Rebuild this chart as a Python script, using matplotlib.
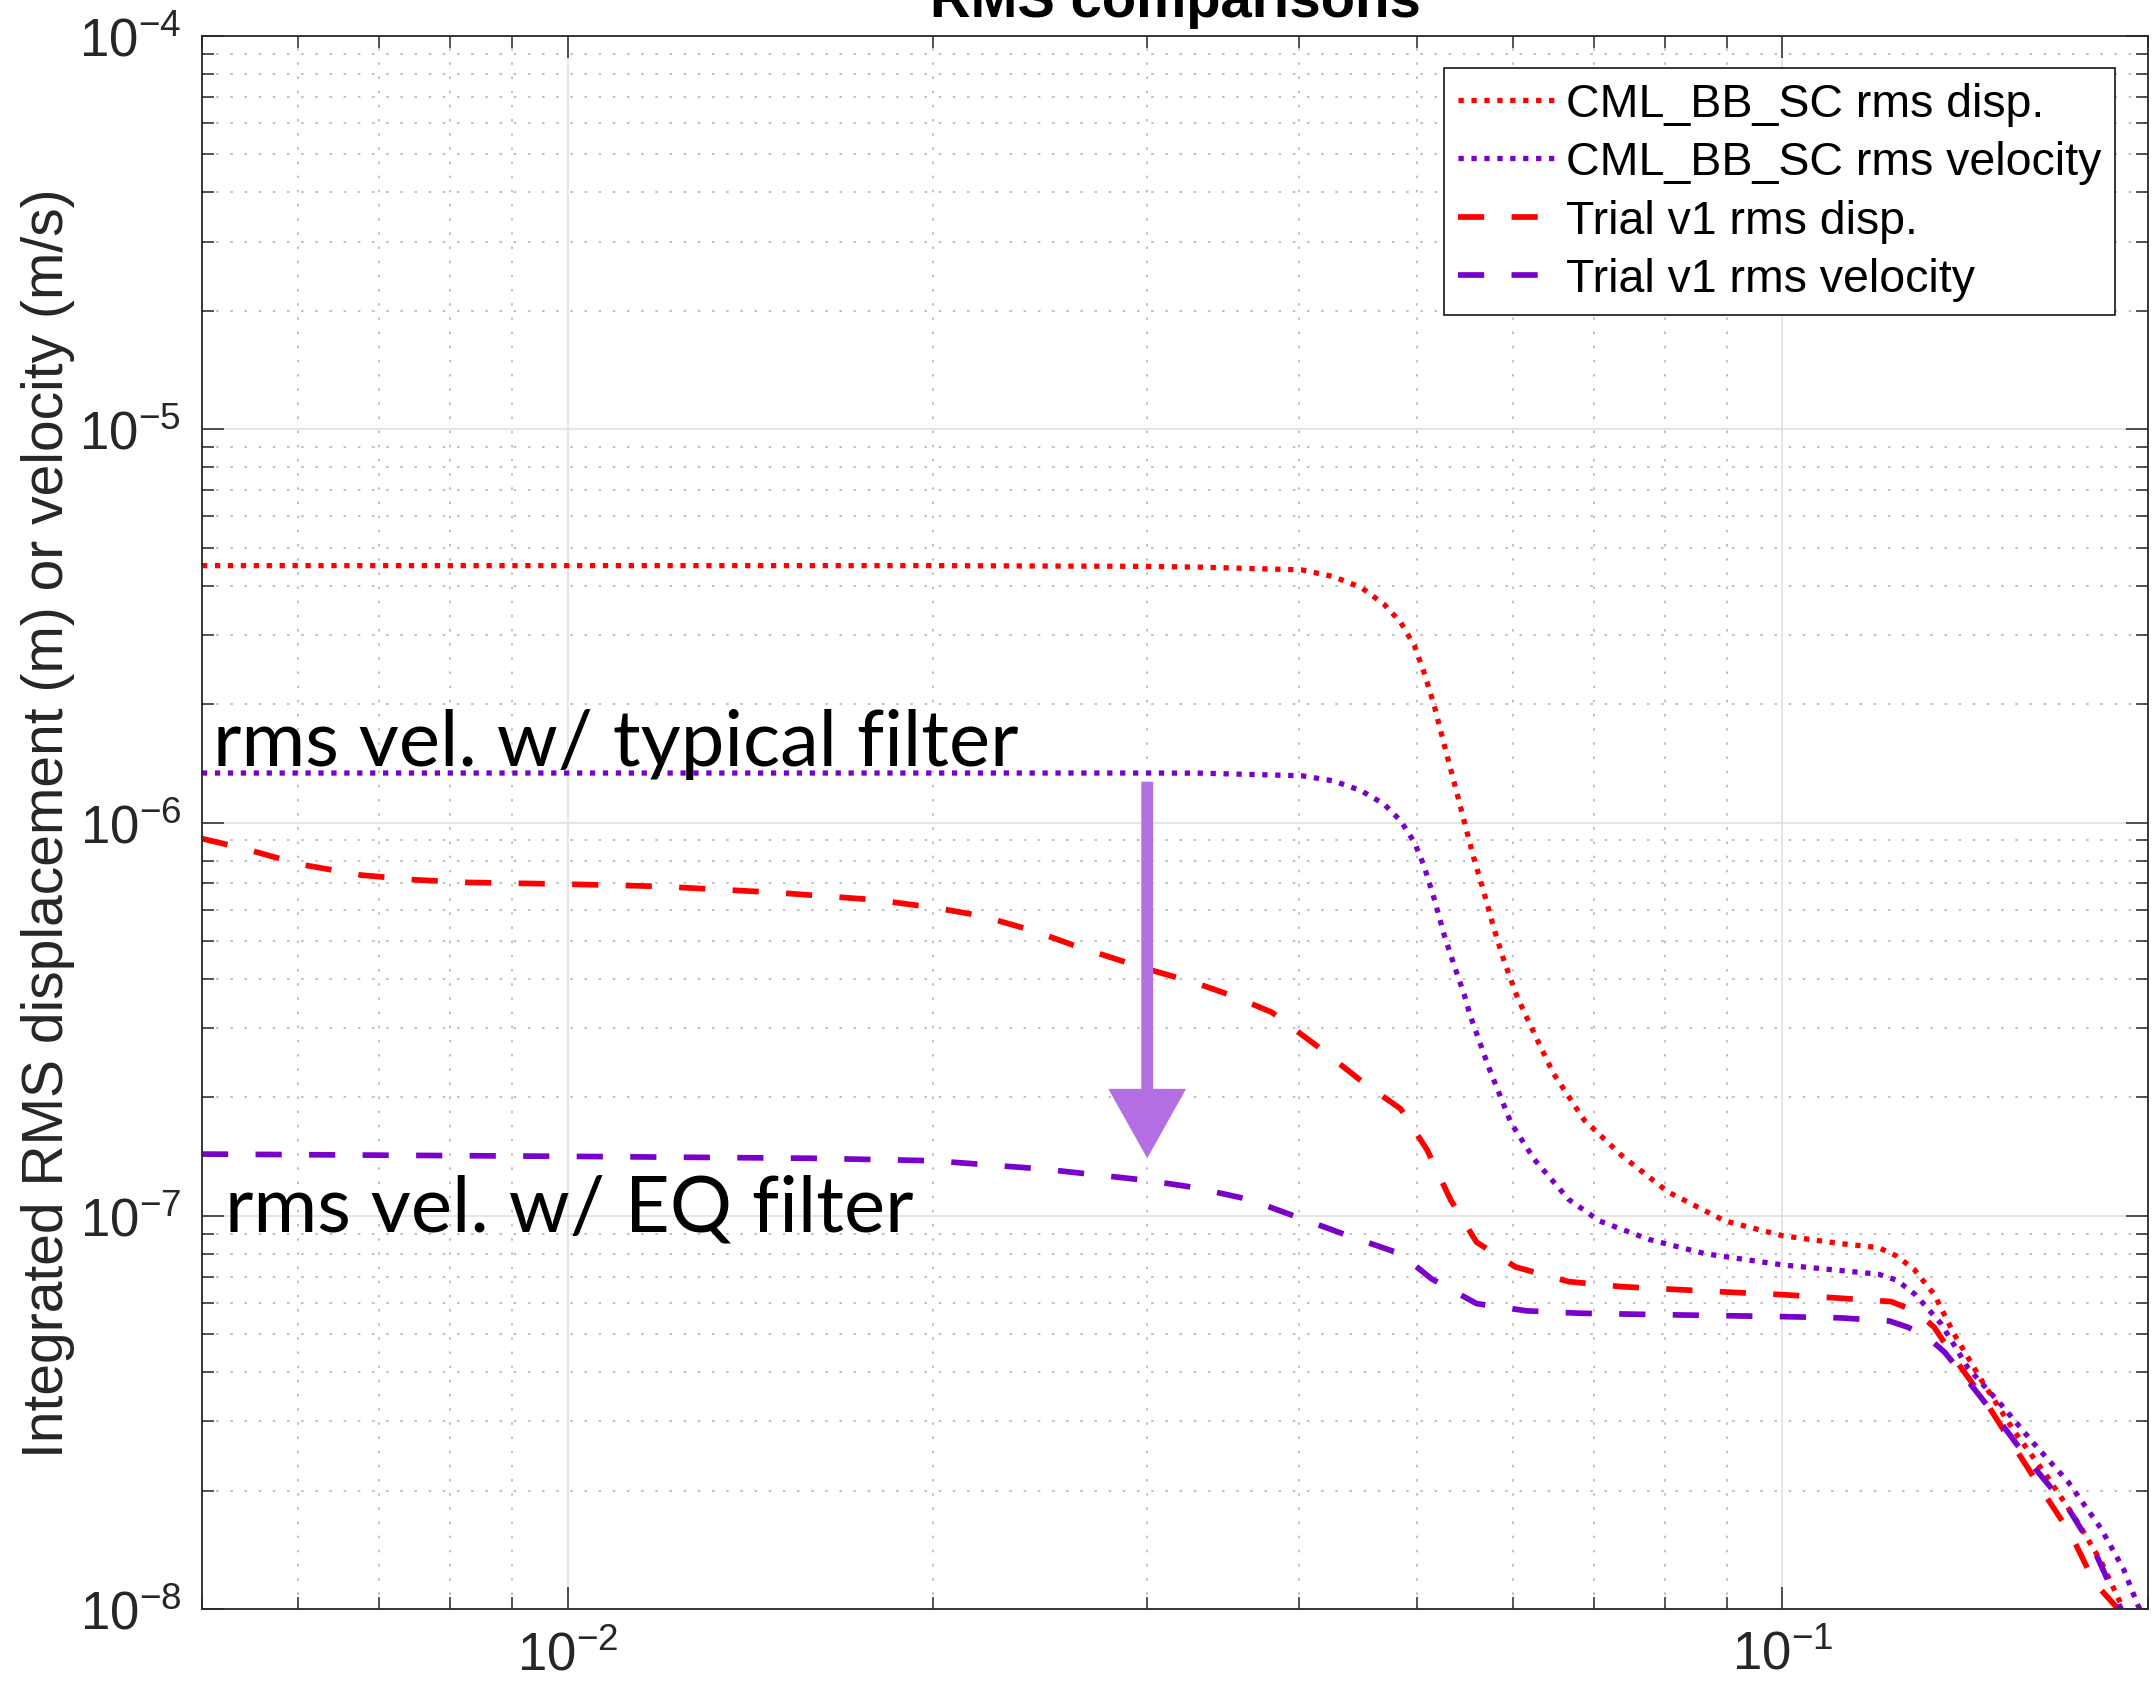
import matplotlib
matplotlib.use("Agg")
import matplotlib.pyplot as plt
from matplotlib.ticker import LogLocator, NullFormatter

# integrated rms curves (freq in Hz)
freq_cml_disp = [0.005, 0.01, 0.02, 0.03, 0.0332, 0.0402, 0.0427, 0.045, 0.047, 0.0485,
                 0.0498, 0.0507, 0.0517, 0.0527, 0.0537, 0.0547, 0.0557, 0.0568, 0.0579, 0.059,
                 0.0605, 0.0625, 0.0648, 0.0687, 0.0738, 0.0805, 0.0897, 0.1, 0.1115, 0.12,
                 0.1242, 0.1284, 0.1334, 0.1385, 0.146, 0.155, 0.1656, 0.1753, 0.183, 0.19, 0.195]
rms_cml_disp = [4.5e-6, 4.5e-6, 4.5e-6, 4.48e-6, 4.46e-6, 4.39e-6, 4.22e-6, 3.96e-6, 3.59e-6, 3.23e-6,
                2.81e-6, 2.41e-6, 1.98e-6, 1.57e-6, 1.26e-6, 1.01e-6, 8.15e-7, 6.64e-7, 5.36e-7, 4.45e-7,
                3.6e-7, 2.9e-7, 2.3e-7, 1.75e-7, 1.42e-7, 1.15e-7, 9.7e-8, 8.9e-8, 8.5e-8, 8.3e-8,
                7.9e-8, 7.3e-8, 6.3e-8, 5.0e-8, 3.8e-8, 2.85e-8, 2.15e-8, 1.65e-8, 1.32e-8, 1.03e-8, 8.5e-9]

freq_cml_vel = [0.005, 0.01, 0.02, 0.03, 0.0332, 0.0402, 0.0427, 0.045, 0.047, 0.0485,
                0.0498, 0.0507, 0.0517, 0.0527, 0.0537, 0.0547, 0.0553, 0.0573, 0.0598, 0.0625,
                0.0667, 0.0707, 0.0777, 0.0865, 0.1, 0.1115, 0.12, 0.1242, 0.1287, 0.1352,
                0.1422, 0.1515, 0.161, 0.172, 0.183, 0.191, 0.196, 0.2]
rms_cml_vel = [1.336e-6, 1.336e-6, 1.336e-6, 1.336e-6, 1.335e-6, 1.315e-6, 1.276e-6, 1.205e-6, 1.114e-6, 1.01e-6,
               8.89e-7, 7.76e-7, 6.38e-7, 5.15e-7, 4.32e-7, 3.66e-7, 3.25e-7, 2.39e-7, 1.72e-7, 1.39e-7,
               1.10e-7, 9.7e-8, 8.7e-8, 8.0e-8, 7.5e-8, 7.26e-8, 7.1e-8, 6.86e-8, 6.3e-8, 5.3e-8,
               4.1e-8, 3.3e-8, 2.64e-8, 2.1e-8, 1.6e-8, 1.26e-8, 1.03e-8, 9e-9]

freq_trial_disp = [0.005, 0.00544, 0.00602, 0.00676, 0.00748, 0.00828, 0.01, 0.0119, 0.0148, 0.0179,
                   0.02, 0.0219, 0.0242, 0.0264, 0.03, 0.0328, 0.0353, 0.038, 0.0414, 0.0452,
                   0.0485, 0.051, 0.0533, 0.056, 0.0603, 0.0667, 0.0738, 0.0897, 0.1, 0.109,
                   0.1229, 0.129, 0.1334, 0.1396, 0.1467, 0.1563, 0.1642, 0.1728, 0.1806, 0.189, 0.192]
rms_trial_disp = [9.1e-7, 8.55e-7, 7.83e-7, 7.35e-7, 7.15e-7, 7.04e-7, 6.97e-7, 6.88e-7, 6.64e-7, 6.36e-7,
                  6.08e-7, 5.79e-7, 5.3e-7, 4.81e-7, 4.24e-7, 3.92e-7, 3.62e-7, 3.29e-7, 2.7e-7, 2.18e-7,
                  1.87e-7, 1.47e-7, 1.1e-7, 8.57e-8, 7.41e-8, 6.8e-8, 6.6e-8, 6.4e-8, 6.3e-8, 6.2e-8,
                  6.05e-8, 5.7e-8, 5.2e-8, 4.2e-8, 3.4e-8, 2.5e-8, 1.97e-8, 1.55e-8, 1.17e-8, 1.0e-8, 9.3e-9]

freq_trial_vel = [0.005, 0.01, 0.0159, 0.02, 0.0246, 0.03, 0.0328, 0.0364, 0.0403, 0.0439,
                  0.0485, 0.0514, 0.056, 0.0616, 0.0681, 0.0805, 0.1, 0.1115, 0.1225, 0.127,
                  0.1318, 0.136, 0.1422, 0.1515, 0.161, 0.172, 0.1806, 0.19, 0.194]
rms_trial_vel = [1.435e-7, 1.416e-7, 1.40e-7, 1.38e-7, 1.315e-7, 1.23e-7, 1.18e-7, 1.10e-7, 9.8e-8, 8.9e-8,
                 8.0e-8, 6.92e-8, 5.98e-8, 5.73e-8, 5.65e-8, 5.6e-8, 5.54e-8, 5.5e-8, 5.4e-8, 5.2e-8,
                 4.9e-8, 4.5e-8, 3.8e-8, 2.96e-8, 2.3e-8, 1.8e-8, 1.41e-8, 1.0e-8, 9e-9]

labels = ["CML_BB_SC rms disp.", "CML_BB_SC rms velocity",
          "Trial v1 rms disp.", "Trial v1 rms velocity"]

# callouts on the plot
note_typical = ("rms vel. w/ typical filter", 0.00511, 1.40e-6)
note_eq = ("rms vel. w/ EQ filter", 0.00522, 9.18e-8)
arrow_x, arrow_top, arrow_tip = 0.03, 1.27e-6, 1.40e-7

RED = "#ff0000"
PURPLE = "#7a00cc"
LAVENDER = "#b46ee4"
DARK = "#262626"

plt.rcParams["font.family"] = ["Liberation Sans", "DejaVu Sans"]
plt.rcParams["mathtext.default"] = "regular"
plt.rcParams["axes.unicode_minus"] = False

W, H = 2152, 1699
fig = plt.figure(figsize=(W / 100, H / 100), dpi=100)
ax = fig.add_axes([202 / W, 1 - 1610 / H, 1946 / W, 1573 / H])

dotted = (0, (1, 1.45))
dashed = (0, (4.6, 4.8))
ax.plot(freq_cml_disp, rms_cml_disp, color=RED, lw=3.8, ls=dotted, dash_capstyle="butt", label=labels[0])
ax.plot(freq_cml_vel, rms_cml_vel, color=PURPLE, lw=3.8, ls=dotted, dash_capstyle="butt", label=labels[1])
ax.plot(freq_trial_disp, rms_trial_disp, color=RED, lw=4.1, ls=dashed, dash_capstyle="butt", label=labels[2])
ax.plot(freq_trial_vel, rms_trial_vel, color=PURPLE, lw=4.1, ls=dashed, dash_capstyle="butt", label=labels[3])

ax.set_xscale("log")
ax.set_yscale("log")
ax.set_xlim(0.005, 0.2)
ax.set_ylim(1e-8, 1e-4)

# matlab style log grid + ticks
for axis in (ax.xaxis, ax.yaxis):
    axis.set_major_locator(LogLocator(base=10, numticks=20))
    axis.set_minor_locator(LogLocator(base=10, subs=range(2, 10), numticks=20))
    axis.set_minor_formatter(NullFormatter())
ax.grid(True, which="major", color="#dedede", lw=1.1, ls="-")
ax.grid(True, which="minor", color="#b5b5b5", lw=1.2, ls=(0, (1.5, 7)))
ax.set_axisbelow(True)
ax.tick_params(which="both", direction="in", top=True, right=True, colors=DARK, width=1.1)
ax.tick_params(which="major", length=15.5, labelsize=38, pad=15)
ax.tick_params(which="minor", length=8.5)
for sp in ax.spines.values():
    sp.set_color(DARK)
    sp.set_linewidth(1.3)

ax.set_ylabel("Integrated RMS displacement (m) or velocity (m/s)", fontsize=41, color=DARK)
ax.yaxis.set_label_coords(-0.0653, 0.5)

fig.text((202 + 1946 / 2) / W, 1 - 17 / H, "RMS comparisons", fontsize=40.5, fontweight="bold",
         ha="center", va="baseline")

leg = ax.legend(loc="upper right", bbox_to_anchor=((2115 - 202) / 1946, (1610 - 69) / 1573),
                borderaxespad=0, fontsize=33.5, handlelength=2.2, handletextpad=0.12,
                labelspacing=0.31, borderpad=0.3, fancybox=False, framealpha=1)
leg.get_frame().set_edgecolor("black")
leg.get_frame().set_linewidth(1.1)

# annotations
for txt, x, y in (note_typical, note_eq):
    ax.text(x, y, txt, fontsize=56, family=["Lato", "DejaVu Sans"], color="black",
            ha="left", va="baseline", zorder=5)
ax.annotate("", xy=(arrow_x, arrow_tip), xytext=(arrow_x, arrow_top), zorder=4,
            arrowprops=dict(arrowstyle="simple,head_length=5.0,head_width=5.6,tail_width=0.85",
                            mutation_scale=10, color=LAVENDER, lw=0, shrinkA=0, shrinkB=0))

fig.savefig("out.png", dpi=100, facecolor="white")
